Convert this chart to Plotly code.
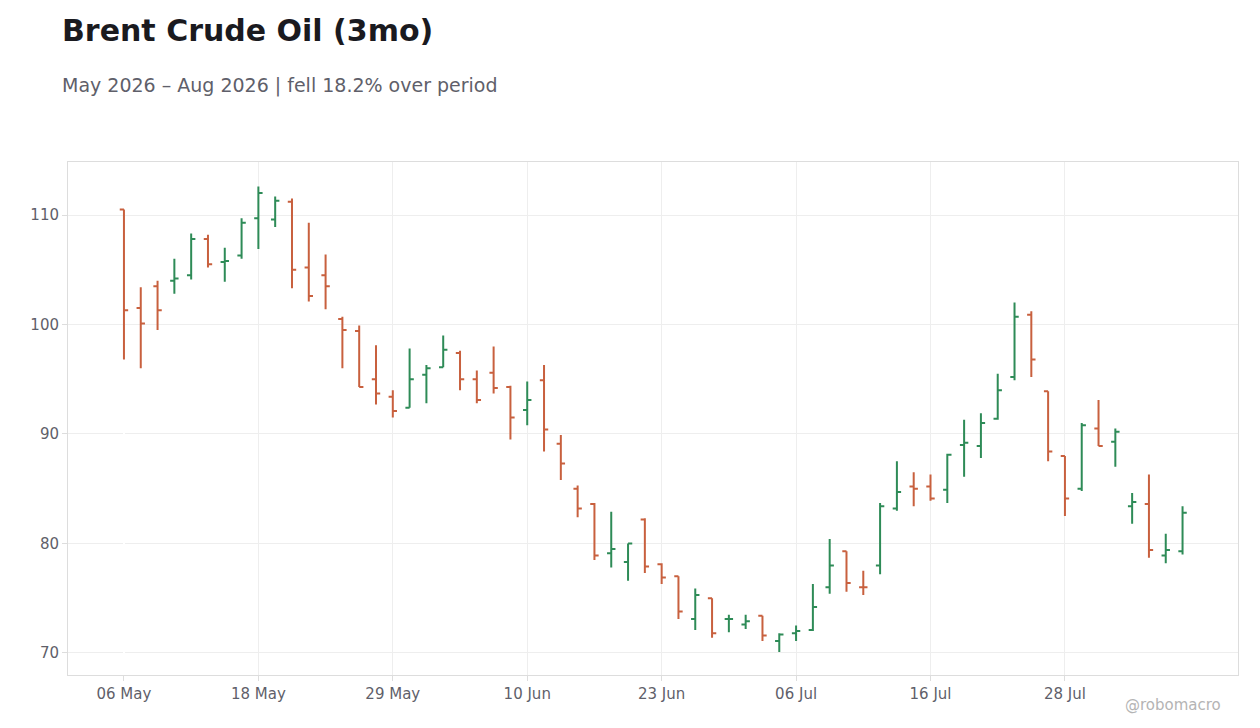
import plotly.graph_objects as go

dates = ['2026-05-06', '2026-05-07', '2026-05-08', '2026-05-11', '2026-05-12', '2026-05-13', '2026-05-14', '2026-05-15',
         '2026-05-18', '2026-05-19', '2026-05-20', '2026-05-21', '2026-05-22', '2026-05-26', '2026-05-27', '2026-05-28',
         '2026-05-29', '2026-06-01', '2026-06-02', '2026-06-03', '2026-06-04', '2026-06-05', '2026-06-08', '2026-06-09',
         '2026-06-10', '2026-06-11', '2026-06-12', '2026-06-15', '2026-06-16', '2026-06-17', '2026-06-18', '2026-06-22',
         '2026-06-23', '2026-06-24', '2026-06-25', '2026-06-26', '2026-06-29', '2026-06-30', '2026-07-01', '2026-07-02',
         '2026-07-06', '2026-07-07', '2026-07-08', '2026-07-09', '2026-07-10', '2026-07-13', '2026-07-14', '2026-07-15',
         '2026-07-16', '2026-07-17', '2026-07-20', '2026-07-21', '2026-07-22', '2026-07-23', '2026-07-24', '2026-07-27',
         '2026-07-28', '2026-07-29', '2026-07-30', '2026-07-31', '2026-08-03', '2026-08-04', '2026-08-05', '2026-08-06']

opens = [110.5, 101.5, 103.5, 104.0, 104.5, 107.8, 105.7, 106.3, 109.7, 109.6, 111.2, 105.2, 104.5, 100.5, 99.4, 95.0,
         93.4, 92.4, 95.4, 96.1, 97.4, 95.0, 95.6, 94.3, 92.2, 94.9, 89.1, 85.0, 83.6, 79.1, 78.3, 82.2,
         78.1, 77.0, 73.1, 75.0, 73.1, 72.6, 73.4, 71.1, 71.8, 72.1, 76.0, 79.3, 76.0, 78.0, 83.2, 85.2,
         85.2, 84.9, 89.0, 88.9, 91.4, 95.2, 100.9, 93.9, 88.0, 85.0, 90.5, 89.3, 83.4, 83.6, 78.9, 79.3]
highs = [110.5, 103.4, 104.0, 106.0, 108.3, 108.2, 107.0, 109.7, 112.6, 111.7, 111.5, 109.3, 106.4, 100.7, 99.9, 98.1,
         94.0, 97.8, 96.3, 99.0, 97.6, 95.8, 98.0, 94.4, 94.8, 96.3, 89.9, 85.3, 83.7, 82.9, 80.0, 82.3,
         78.2, 77.0, 75.9, 75.0, 73.5, 73.5, 73.4, 71.8, 72.5, 76.3, 80.4, 79.3, 77.5, 83.7, 87.5, 86.5,
         86.3, 88.2, 91.3, 91.9, 95.5, 102.0, 101.2, 93.9, 88.0, 91.0, 93.1, 90.5, 84.6, 86.3, 80.9, 83.4]
lows = [96.8, 96.0, 99.5, 102.8, 104.1, 105.2, 103.9, 106.0, 106.9, 108.9, 103.3, 102.1, 101.4, 96.0, 94.3, 92.7,
        91.5, 92.4, 92.8, 96.1, 94.0, 92.8, 93.7, 89.5, 90.8, 88.4, 85.8, 82.4, 78.5, 77.8, 76.6, 77.3,
        76.3, 73.1, 72.1, 71.4, 71.9, 72.2, 71.1, 70.1, 71.1, 72.0, 75.4, 75.6, 75.3, 77.2, 83.0, 83.4,
        83.9, 83.7, 86.1, 87.8, 91.3, 94.9, 95.2, 87.5, 82.5, 84.8, 88.9, 87.0, 81.8, 78.7, 78.2, 79.0]
closes = [101.3, 100.1, 101.3, 104.2, 107.8, 105.5, 105.8, 109.3, 112.0, 111.3, 105.0, 102.6, 103.5, 99.5, 94.3, 93.7,
          92.1, 95.0, 96.0, 97.7, 95.0, 93.1, 94.2, 91.5, 93.1, 90.4, 87.3, 83.2, 78.9, 79.5, 80.0, 77.9,
          76.9, 73.8, 75.3, 71.8, 73.1, 72.9, 71.6, 71.7, 72.0, 74.2, 78.0, 76.4, 76.0, 83.4, 84.7, 85.0,
          84.1, 88.1, 89.2, 91.0, 94.0, 100.7, 96.8, 88.4, 84.1, 90.8, 88.9, 90.2, 83.8, 79.4, 79.4, 82.8]

tick_labels = ['06 May', '18 May', '29 May', '10 Jun', '23 Jun', '06 Jul', '16 Jul', '28 Jul']

idx = list(range(len(dates)))
tick_pos = [i for i in idx if i % 8 == 0]

fig = go.Figure(go.Ohlc(
    x=idx, open=opens, high=highs, low=lows, close=closes,
    increasing=dict(line=dict(color='#2e8b57', width=2)),
    decreasing=dict(line=dict(color='#c8603e', width=2)),
    tickwidth=0.25, hovertext=dates,
))

# page gets shifted ~8px by the body margin, so margins compensate
fig.update_layout(
    width=1260, height=728,
    margin=dict(l=60, r=30, t=154, b=61),
    paper_bgcolor='white', plot_bgcolor='white',
    font=dict(family='DejaVu Sans', color='#5f5f6a', size=15),
    showlegend=False,
    xaxis=dict(range=[-3.33, 66.3], tickvals=tick_pos, ticktext=tick_labels,
               rangeslider=dict(visible=False), showgrid=True, gridcolor='#eeeeee',
               showline=True, linecolor='#dddddd', mirror=True, ticks='outside',
               ticklen=5, tickcolor='#dddddd'),
    yaxis=dict(range=[67.99, 114.84], tickvals=[70, 80, 90, 100, 110], showgrid=True,
               gridcolor='#eeeeee', showline=True, linecolor='#dddddd', mirror=True,
               ticks='outside', ticklen=5, tickcolor='#dddddd'),
    annotations=[
        dict(text='<b>Brent Crude Oil (3mo)</b>', xref='paper', yref='paper', x=-0.0065, y=1.257,
             xanchor='left', yanchor='middle', showarrow=False,
             font=dict(size=30, color='#1a1a1f')),
        dict(text='May 2026 – Aug 2026 | fell 18.2% over period', xref='paper', yref='paper',
             x=-0.0065, y=1.150, xanchor='left', yanchor='middle', showarrow=False,
             font=dict(size=19, color='#5f5f6a')),
        dict(text='@robomacro', xref='paper', yref='paper', x=0.987, y=-0.058,
             xanchor='right', yanchor='middle', showarrow=False,
             font=dict(size=15, color='#b4b4b4')),
    ],
)

fig.write_html("out.html")
